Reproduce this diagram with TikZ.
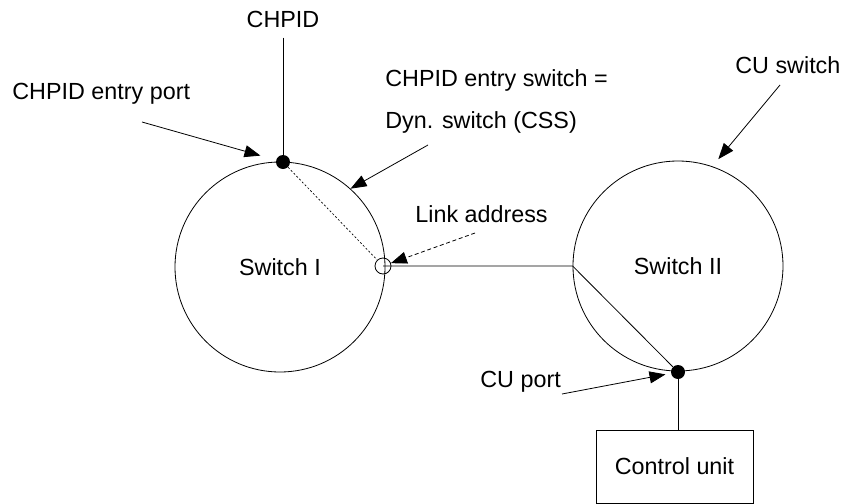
\documentclass[tikz,border=0pt]{standalone}
\usepackage{fontspec}
\setmainfont{Liberation Sans}
\usetikzlibrary{arrows.meta}
\tikzset{
  lbl/.style={inner sep=0pt, font=\fontsize{17.5}{21}\selectfont},
  swc/.style={circle, draw, inner sep=0pt, minimum size=157.5pt, font=\fontsize{17.5}{21}\selectfont},
  port/.style={circle, fill=black, inner sep=0pt, minimum size=10.5pt},
  ptr/.style={-{Triangle[length=12pt,width=9pt]}},
}
\begin{document}
\begin{tikzpicture}[x=0.75pt,y=-0.75pt,line width=0.6pt]
\useasboundingbox (0,0) rectangle (844,504);
% switches
\node[swc] (s1) at (280,267) {Switch I};
\node[swc] (s2) at (678,266) {Switch II};
\node[port] (p1) at (283,162) {};
\node[port] (p2) at (678,372) {};
\node[circle, draw, inner sep=0pt, minimum size=12pt] (la) at (383,266) {};
\node[draw, inner sep=0pt, minimum width=117.75pt, minimum height=54.75pt, font=\fontsize{17.5}{21}\selectfont] (cu) at (674.5,466.5) {Control unit};

% labels
\node[lbl, anchor=base] (chp) at (283,27) {CHPID};
\node[lbl, anchor=base west] (ep) at (12,99) {CHPID entry port};
\node[lbl, anchor=base west] (es) at (385,86) {CHPID entry switch =};
\node[lbl, anchor=base west] (dyn) at (385,128) {Dyn. switch (CSS)};
\node[lbl, anchor=base west] (cs) at (735,73) {CU switch};
\node[lbl, anchor=base west] (lad) at (415,222) {Link address};
\node[lbl, anchor=base west] (cup) at (480,387) {CU port};

% links
\draw ([yshift=-7.5pt]chp.south) -- (p1);
\draw[line width=0.5pt, dash pattern=on 1.5pt off 1.5pt] (p1) -- (la);
\draw (la.center) -- (s2.west) -- (p2);
\draw (p2) -- (p2 |- cu.north);

% pointers
\coordinate (a1) at (142,122);
\coordinate (a2) at (428,145);
\coordinate (a3) at (780,85);
\coordinate (a4) at (475,233);
\coordinate (a5) at (562,394);
\draw[ptr, shorten >=12pt] (a1) -- (p1);
\draw[ptr] (a2) -- (s1.48);
\draw[ptr, shorten >=7pt] (a3) -- (s2.71);
\draw[ptr, dash pattern=on 3pt off 2pt] (a4) -- (la);
\draw[ptr, shorten >=4pt] (a5) -- (p2);
\end{tikzpicture}
\end{document}
